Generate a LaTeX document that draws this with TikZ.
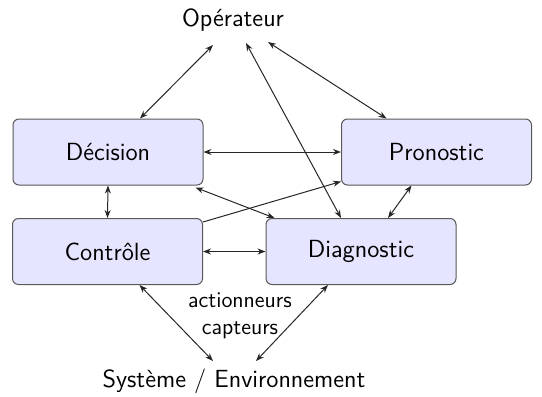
\documentclass[tikz,border=0pt]{standalone}
\usetikzlibrary{arrows.meta,calc}
\begin{document}
\begin{tikzpicture}[x=0.5pt,y=-0.5pt,
  font=\sffamily\fontsize{12.4}{14}\selectfont,
  box/.style={draw=black!65, fill=blue!10, rounded corners=3pt, minimum width=95pt, minimum height=33pt, line width=0.5pt, inner sep=0pt},
  link/.style={<->, >={Stealth[length=4pt,width=3pt]}, line width=0.5pt, draw=black!85},
  onelink/.style={->, >={Stealth[length=4pt,width=3pt]}, line width=0.5pt, draw=black!85}]
\useasboundingbox (0,0) rectangle (542,397);
\node[box] (dec) at (108,152) {Décision};
\node[box] (pro) at (436.5,152) {Pronostic};
\node[box] (con) at (107.5,251.5) {Contrôle};
\node[box] (dia) at (361,251.5) {Diagnostic};
\node (op) at (233,20) {Opérateur};
\node (sys) at (234,381) {Système / Environnement};
\node[font=\sffamily\fontsize{11.2}{13.5}\selectfont, align=center, inner sep=0pt] (ac) at (240,316) {actionneurs\\capteurs};
\draw[link] ($(op)+(-20,25)$) -- ($(dec.north)+(32,0)$);
\draw[link] ($(op)+(13,23)$) -- ($(dia.north)+(-20,0)$);
\draw[link] ($(op)+(35,22)$) -- ($(pro.north)+(-50,0)$);
\draw[link] (dec.east) -- (pro.west);
\draw[link] ($(dec.south east)+(-8,2)$) -- ($(dia.north west)+(9,0)$);
\draw[onelink] ($(con.north east)+(0,4)$) -- ($(pro.south west)+(0,-4)$);
\draw[link] (dec.south) -- (con.north);
\draw[link] ($(pro.south)+(-25,0)$) -- ($(dia.north)+(27,0)$);
\draw[link] (con.east) -- (dia.west);
\draw[link] ($(con.south)+(32,0)$) -- ($(sys)+(-21,-20)$);
\draw[link] ($(dia.south)+(-33,0)$) -- ($(sys)+(22,-20)$);
\end{tikzpicture}
\end{document}
